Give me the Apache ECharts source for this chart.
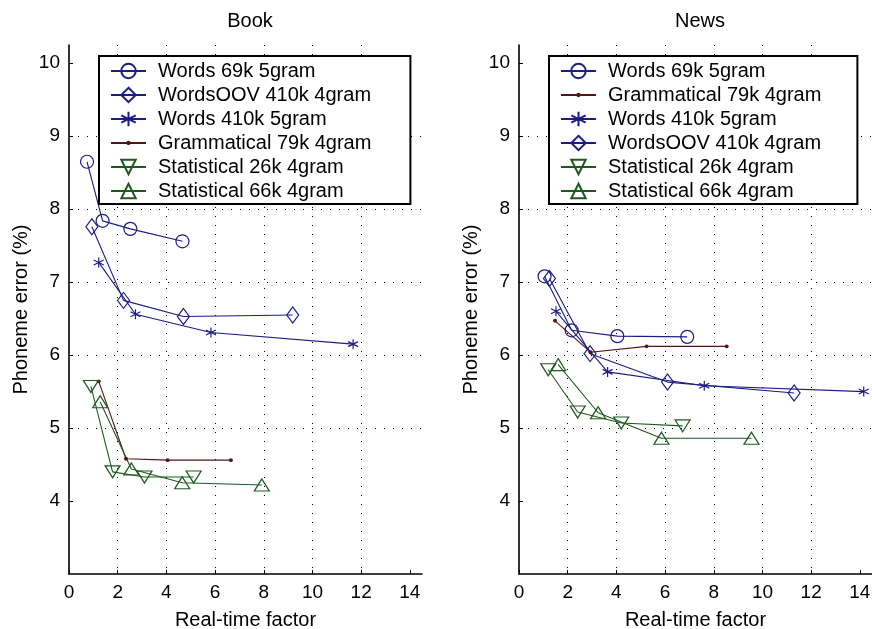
<!DOCTYPE html>
<html>
<head>
<meta charset="utf-8">
<script src="https://cdn.jsdelivr.net/npm/echarts@6/dist/echarts.min.js"></script>
<style>
html, body { margin: 0; padding: 0; background: #fff; }
#main { width: 872px; height: 629px; }
</style>
</head>
<body>
<div id="main"></div>
<script>
// tick labels
var xTicks = [0, 2, 4, 6, 8, 10, 12, 14];
var yTicks = [4, 5, 6, 7, 8, 9, 10];

// Book panel (real-time factor / phoneme error %)
var bookWords69kX = [0.74, 1.38, 2.52, 4.66];
var bookWords69kY = [8.65, 7.84, 7.73, 7.56];
var bookOOV410kX = [0.94, 2.24, 4.70, 9.19];
var bookOOV410kY = [7.76, 6.75, 6.53, 6.55];
var bookWords410kX = [1.22, 2.73, 5.83, 11.67];
var bookWords410kY = [7.27, 6.56, 6.31, 6.15];
var bookGram79kX = [1.22, 2.34, 4.05, 6.65];
var bookGram79kY = [5.64, 4.58, 4.56, 4.56];
var bookStat26kX = [0.90, 1.79, 3.10, 5.12];
var bookStat26kY = [5.57, 4.40, 4.33, 4.33];
var bookStat66kX = [1.28, 2.56, 4.65, 7.92];
var bookStat66kY = [5.36, 4.44, 4.25, 4.22];

// News panel
var newsWords69kX = [1.05, 2.16, 4.04, 6.91];
var newsWords69kY = [7.08, 6.34, 6.26, 6.25];
var newsGram79kX = [1.48, 2.94, 5.24, 8.53];
var newsGram79kY = [6.47, 6.04, 6.12, 6.12];
var newsWords410kX = [1.52, 3.64, 7.61, 14.16];
var newsWords410kY = [6.60, 5.77, 5.58, 5.50];
var newsOOV410kX = [1.25, 2.92, 6.10, 11.30];
var newsOOV410kY = [7.05, 6.02, 5.63, 5.48];
var newsStat26kX = [1.20, 2.41, 4.20, 6.72];
var newsStat26kY = [5.80, 5.22, 5.07, 5.03];
var newsStat66kX = [1.61, 3.25, 5.85, 9.55];
var newsStat66kY = [5.87, 5.21, 4.86, 4.86];

var bookLegend = ['Words 69k 5gram', 'WordsOOV 410k 4gram', 'Words 410k 5gram',
    'Grammatical 79k 4gram', 'Statistical 26k 4gram', 'Statistical 66k 4gram'];
var newsLegend = ['Words 69k 5gram', 'Grammatical 79k 4gram', 'Words 410k 5gram',
    'WordsOOV 410k 4gram', 'Statistical 26k 4gram', 'Statistical 66k 4gram'];

var BLUE = '#1c1c84';
var RED = '#521414';
var GREEN = '#1e5a1e';
var FONT = 'Liberation Sans';

var starPath = 'path://M5,0L5,10M0.67,2.5L9.33,7.5M0.67,7.5L9.33,2.5';
var downTri = 'path://M0,0L10,0L5,8.66Z';
var upTri = 'path://M5,0L10,8.66L0,8.66Z';
// small dot inside a bigger empty box, so the legend draws it small too
var dotPath = 'path://M0,0M10,10M5,3.5A1.5,1.5,0,1,1,5,6.5A1.5,1.5,0,1,1,5,3.5Z';

// marker look per series name
var look = {
    'Words 69k 5gram': { color: BLUE, symbol: 'circle', size: 13, fill: false },
    'WordsOOV 410k 4gram': { color: BLUE, symbol: 'diamond', size: [12, 16], fill: false },
    'Words 410k 5gram': { color: BLUE, symbol: starPath, size: 10, fill: false },
    'Grammatical 79k 4gram': { color: RED, symbol: dotPath, size: 13, fill: true },
    'Statistical 26k 4gram': { color: GREEN, symbol: downTri, size: [15, 12], fill: false },
    'Statistical 66k 4gram': { color: GREEN, symbol: upTri, size: [15, 12], fill: false }
};

function pairs(xs, ys) {
    return xs.map(function (x, i) { return [x, ys[i]]; });
}

function mkSeries(name, xs, ys, idx) {
    var s = look[name];
    return {
        name: name,
        type: 'line',
        xAxisIndex: idx,
        yAxisIndex: idx,
        data: pairs(xs, ys),
        symbol: s.symbol,
        symbolSize: s.size,
        showAllSymbol: true,
        animation: false,
        lineStyle: { color: s.color, width: 1.1 },
        itemStyle: {
            color: s.fill ? s.color : 'rgba(255,255,255,0)',
            borderColor: s.color,
            borderWidth: s.fill ? 0 : 1.2
        },
        emphasis: { disabled: true }
    };
}

function xAxis(idx) {
    return {
        gridIndex: idx,
        type: 'value',
        min: 0,
        max: 14.5,
        interval: 2,
        name: 'Real-time factor',
        nameLocation: 'middle',
        nameGap: 36,
        nameTextStyle: { fontFamily: FONT, fontSize: 20, color: '#000' },
        axisLine: { lineStyle: { color: '#000', width: 1.6 } },
        axisTick: { inside: true, length: 4, customValues: xTicks, lineStyle: { color: '#000' } },
        axisLabel: { customValues: xTicks, fontFamily: FONT, fontSize: 19, color: '#000', margin: 9 },
        splitLine: {
            show: true, showMinLine: false, showMaxLine: false,
            lineStyle: { color: '#000', type: [1, 8], width: 1 }
        }
    };
}

function yAxis(idx) {
    return {
        gridIndex: idx,
        type: 'value',
        min: 3,
        max: 10.25,
        interval: 1,
        name: 'Phoneme error (%)',
        nameLocation: 'middle',
        nameGap: 38,
        nameTextStyle: { fontFamily: FONT, fontSize: 20, color: '#000' },
        axisLine: { lineStyle: { color: '#000', width: 1.6 } },
        axisTick: { inside: true, length: 4, customValues: yTicks, lineStyle: { color: '#000' } },
        axisLabel: { customValues: yTicks, fontFamily: FONT, fontSize: 19, color: '#000', margin: 9 },
        splitLine: {
            show: true, showMinLine: false, showMaxLine: false,
            lineStyle: { color: '#000', type: [1, 8], width: 1 }
        }
    };
}

function legend(left, data, padRight) {
    return {
        orient: 'vertical',
        left: left,
        top: 56,
        data: data,
        backgroundColor: '#fff',
        borderColor: '#000',
        borderWidth: 2,
        padding: [5, padRight, 3, 11],
        itemWidth: 35,
        itemHeight: 18,
        itemGap: 4,
        selectedMode: false,
        textStyle: { fontFamily: FONT, fontSize: 20, lineHeight: 20, color: '#000', padding: [0, 0, 0, 7] }
    };
}

var series = [
    mkSeries('Words 69k 5gram', bookWords69kX, bookWords69kY, 0),
    mkSeries('WordsOOV 410k 4gram', bookOOV410kX, bookOOV410kY, 0),
    mkSeries('Words 410k 5gram', bookWords410kX, bookWords410kY, 0),
    mkSeries('Grammatical 79k 4gram', bookGram79kX, bookGram79kY, 0),
    mkSeries('Statistical 26k 4gram', bookStat26kX, bookStat26kY, 0),
    mkSeries('Statistical 66k 4gram', bookStat66kX, bookStat66kY, 0),
    mkSeries('Words 69k 5gram', newsWords69kX, newsWords69kY, 1),
    mkSeries('Grammatical 79k 4gram', newsGram79kX, newsGram79kY, 1),
    mkSeries('Words 410k 5gram', newsWords410kX, newsWords410kY, 1),
    mkSeries('WordsOOV 410k 4gram', newsOOV410kX, newsOOV410kY, 1),
    mkSeries('Statistical 26k 4gram', newsStat26kX, newsStat26kY, 1),
    mkSeries('Statistical 66k 4gram', newsStat66kX, newsStat66kY, 1)
];

var chart = echarts.init(document.getElementById('main'));
chart.setOption({
    backgroundColor: '#fff',
    animation: false,
    title: [
        { text: 'Book', left: 245, top: 6, textAlign: 'center',
          textStyle: { fontFamily: FONT, fontSize: 20, fontWeight: 'normal', color: '#000' } },
        { text: 'News', left: 695, top: 6, textAlign: 'center',
          textStyle: { fontFamily: FONT, fontSize: 20, fontWeight: 'normal', color: '#000' } }
    ],
    grid: [
        { left: 69, top: 45, width: 353, height: 529, outerBoundsMode: 'none' },
        { left: 519, top: 45, width: 353, height: 529, outerBoundsMode: 'none' }
    ],
    xAxis: [xAxis(0), xAxis(1)],
    yAxis: [yAxis(0), yAxis(1)],
    legend: [legend(99, bookLegend, 39), legend(549, newsLegend, 36)],
    series: series
});
</script>
</body>
</html>
